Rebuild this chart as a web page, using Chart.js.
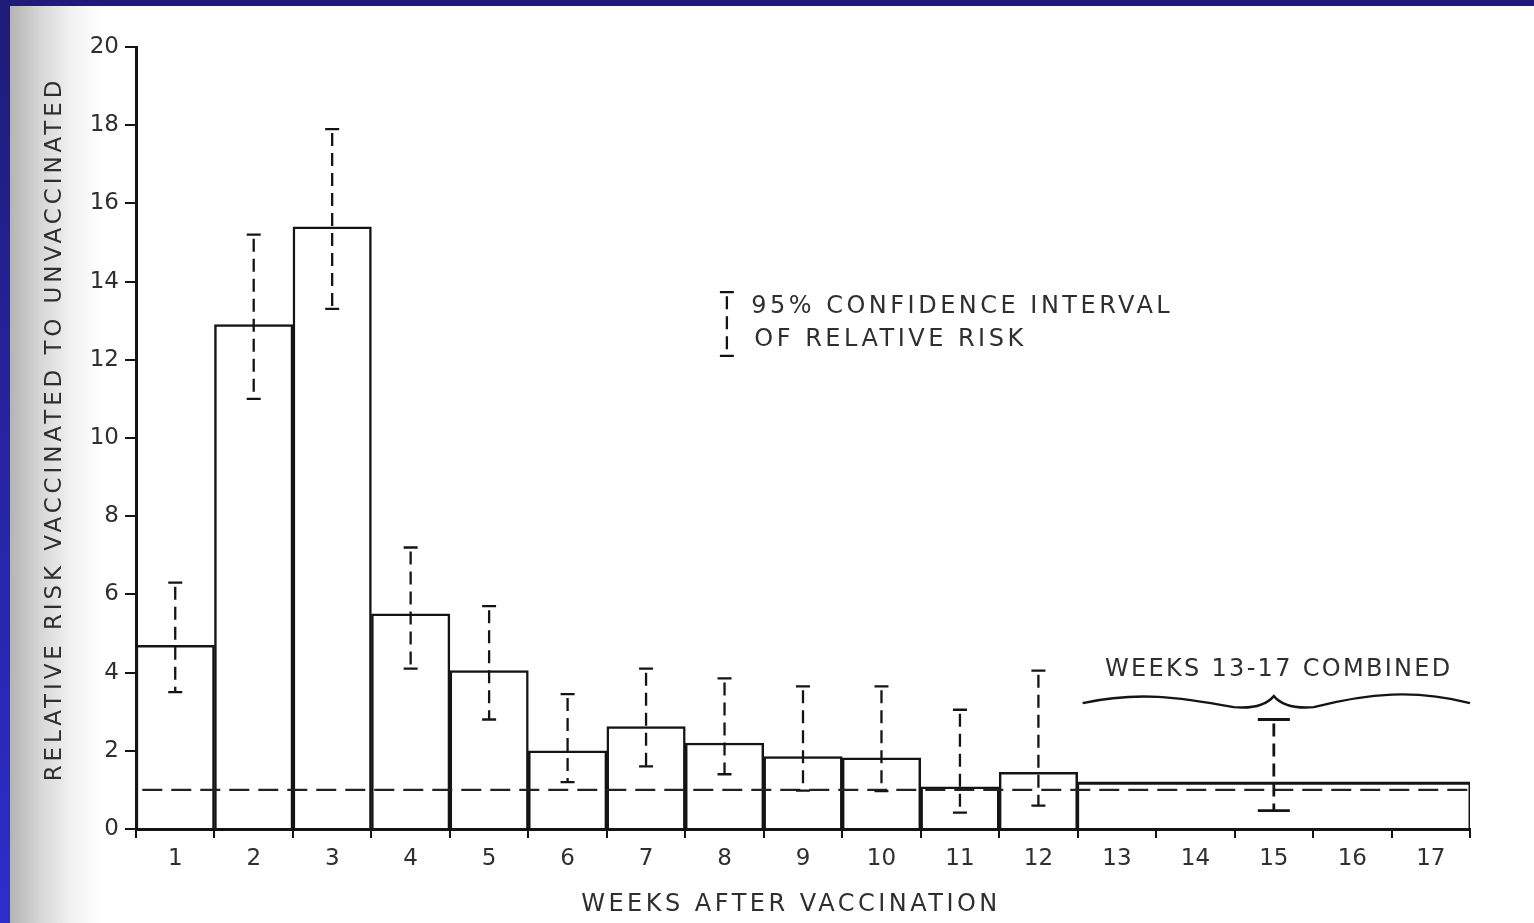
<!DOCTYPE html>
<html>
<head>
<meta charset="utf-8">
<script src="https://cdn.jsdelivr.net/npm/chart.js@4.4.0/dist/chart.umd.min.js"></script>
<style>
  html, body { margin: 0; padding: 0; background: #fff; }
  #wrap { width: 1534px; height: 923px; }
</style>
</head>
<body>
<div id="wrap"><canvas id="myChart"></canvas></div>
<script>
// weeks after vaccination
const weeks = ['1','2','3','4','5','6','7','8','9','10','11','12','13','14','15','16','17']
// relative risk, weeks 1-12
const relRisk = [4.7, 12.9, 15.4, 5.5, 4.05, 2.0, 2.62, 2.2, 1.85, 1.82, 1.08, 1.45]
const ciLow  = [3.5, 11.0, 13.3, 4.1, 2.8, 1.2, 1.6, 1.4, 0.98, 0.97, 0.42, 0.6]
const ciHigh = [6.3, 15.2, 17.9, 7.2, 5.7, 3.45, 4.1, 3.85, 3.65, 3.65, 3.05, 4.05]
// weeks 13-17 combined
const combinedRange = [12, 17]
const combinedRisk = 1.17
const combinedLow = 0.47
const combinedHigh = 2.8
const refLevel = 1
const yTicks = [0, 2, 4, 6, 8, 10, 12, 14, 16, 18, 20]

const INK = '#141414'
const TXT = '#2f2f2f'

function errBar(ctx, x, yLo, yHi, cap, lw) {
    ctx.save()
    ctx.strokeStyle = INK
    ctx.lineWidth = lw
    ctx.setLineDash([13, 7])
    ctx.beginPath()
    ctx.moveTo(x, yHi + 4)
    ctx.lineTo(x, yLo)
    ctx.stroke()
    ctx.setLineDash([])
    ctx.beginPath()
    ctx.moveTo(x - cap / 2, yHi); ctx.lineTo(x + cap / 2, yHi)
    ctx.moveTo(x - cap / 2, yLo); ctx.lineTo(x + cap / 2, yLo)
    ctx.stroke()
    ctx.restore()
}

function spaced(ctx, text, x, y, align, spacing) {
    ctx.letterSpacing = spacing + 'px'
    ctx.textAlign = align
    ctx.fillText(text, x, y)
}

const paperPlugin = {
    id: 'paper',
    beforeDraw(chart) {
        const ctx = chart.ctx
        const w = chart.width, h = chart.height
        ctx.save()
        ctx.fillStyle = '#ffffff'
        ctx.fillRect(0, 0, w, h)
        // greyish scan shadow along left edge
        let g = ctx.createLinearGradient(10, 0, 100, 0)
        g.addColorStop(0, '#b4b4b4')
        g.addColorStop(0.35, '#d8d8d8')
        g.addColorStop(0.7, '#f2f2f2')
        g.addColorStop(1, '#ffffff')
        ctx.fillStyle = g
        ctx.fillRect(10, 0, 90, h)
        // blue slide frame
        g = ctx.createLinearGradient(0, 0, 0, h)
        g.addColorStop(0, '#1f1b78')
        g.addColorStop(1, '#2d2dcc')
        ctx.fillStyle = g
        ctx.fillRect(0, 0, 10, h)
        ctx.fillStyle = '#1f1b78'
        ctx.fillRect(0, 0, w, 6)
        ctx.restore()
    },
    afterDatasetsDraw(chart) {
        const ctx = chart.ctx
        const xs = chart.scales.x, ys = chart.scales.y
        relRisk.forEach((v, i) => {
            errBar(ctx, xs.getPixelForValue(i + 0.5), ys.getPixelForValue(ciLow[i]), ys.getPixelForValue(ciHigh[i]), 14, 2.3)
        })
        const xc = xs.getPixelForValue((combinedRange[0] + combinedRange[1]) / 2)
        errBar(ctx, xc, ys.getPixelForValue(combinedLow), ys.getPixelForValue(combinedHigh), 32, 2.8)
    },
    afterDraw(chart) {
        const ctx = chart.ctx
        const xs = chart.scales.x, ys = chart.scales.y, area = chart.chartArea
        ctx.save()
        ctx.fillStyle = TXT
        ctx.textBaseline = 'middle'

        // legend
        const lx = xs.getPixelForValue(7.53)
        errBar(ctx, lx, ys.getPixelForValue(12.1), ys.getPixelForValue(13.73), 14, 2.3)
        ctx.font = '24px "DejaVu Sans"'
        spaced(ctx, '95% CONFIDENCE INTERVAL', xs.getPixelForValue(7.84), ys.getPixelForValue(13.35), 'left', 3.5)
        spaced(ctx, 'OF RELATIVE RISK', xs.getPixelForValue(7.88), ys.getPixelForValue(12.5), 'left', 3.5)

        // weeks 13-17 label and brace
        const xa = xs.getPixelForValue(combinedRange[0]) + 5
        const xb = xs.getPixelForValue(combinedRange[1])
        const xm = xs.getPixelForValue(14.5)
        spaced(ctx, 'WEEKS 13-17 COMBINED', xm + 5, ys.getPixelForValue(4.07), 'center', 2.3)
        const by = ys.getPixelForValue(3.22)
        ctx.strokeStyle = INK
        ctx.lineWidth = 2.4
        ctx.beginPath()
        ctx.moveTo(xa, by)
        ctx.bezierCurveTo(xa + 55, by - 12, xm - 95, by - 6, xm - 40, by + 4)
        ctx.bezierCurveTo(xm - 18, by + 6, xm - 6, by, xm, by - 7)
        ctx.bezierCurveTo(xm + 6, by, xm + 18, by + 6, xm + 40, by + 4)
        ctx.bezierCurveTo(xm + 95, by - 10, xb - 55, by - 14, xb, by)
        ctx.stroke()

        // axis titles
        ctx.font = '24px "DejaVu Sans"'
        spaced(ctx, 'WEEKS AFTER VACCINATION', (area.left + area.right) / 2 - 12, 905, 'center', 3.5)
        ctx.font = '23px "DejaVu Sans"'
        ctx.translate(55, (area.top + area.bottom) / 2 - 9)
        ctx.rotate(-Math.PI / 2)
        spaced(ctx, 'RELATIVE RISK VACCINATED TO UNVACCINATED', 0, 0, 'center', 3.9)
        ctx.restore()
    }
}

const ctx = document.getElementById('myChart').getContext('2d')
const chart = new Chart(ctx, {
    type: 'bar',
    data: {
        datasets: [{
            label: 'relative risk',
            data: relRisk.map((v, i) => ({ x: i + 0.5, y: v })),
            backgroundColor: '#ffffff',
            borderColor: INK,
            borderWidth: 2.5,
            borderSkipped: 'start',
            barPercentage: 1,
            categoryPercentage: 1,
            grouped: false,
            order: 3
        }, {
            type: 'line',
            label: 'weeks 13-17',
            data: [
                { x: combinedRange[0], y: 0 },
                { x: combinedRange[0], y: combinedRisk },
                { x: combinedRange[1], y: combinedRisk },
                { x: combinedRange[1], y: 0 }
            ],
            borderColor: INK,
            borderWidth: 3,
            pointRadius: 0,
            fill: false,
            tension: 0,
            order: 2
        }, {
            type: 'line',
            label: 'RR = 1',
            data: [{ x: 0.08, y: refLevel }, { x: 17, y: refLevel }],
            borderColor: '#222',
            borderWidth: 2.2,
            borderDash: [20, 9],
            pointRadius: 0,
            fill: false,
            order: 1
        }]
    },
    options: {
        responsive: true,
        maintainAspectRatio: false,
        animation: false,
        layout: { padding: { top: 47, right: 64, left: 0, bottom: 0 } },
        plugins: {
            legend: { display: false },
            tooltip: { enabled: false }
        },
        scales: {
            x: {
                type: 'linear',
                min: 0,
                max: 17,
                offset: false,
                afterBuildTicks(scale) { scale.ticks = [{ value: 0 }].concat(weeks.map(w => ({ value: +w }))) },
                grid: { offset: false, drawOnChartArea: false, tickLength: 9, color: INK, lineWidth: 2 },
                border: { color: INK, width: 3 },
                ticks: {
                    color: TXT,
                    font: { family: 'DejaVu Sans', size: 23 },
                    padding: 7,
                    maxRotation: 0,
                    autoSkip: false,
                    labelOffset: -39.2,
                    callback: v => v >= 1 ? weeks[v - 1] : ''
                },
                afterFit(scale) { scale.height = 94 }
            },
            y: {
                min: 0,
                max: 20,
                afterBuildTicks(scale) { scale.ticks = yTicks.map(v => ({ value: v })) },
                grid: { drawOnChartArea: false, tickLength: 11, color: INK, lineWidth: 2 },
                border: { color: INK, width: 3 },
                ticks: { color: TXT, font: { family: 'DejaVu Sans', size: 23 }, padding: 6 },
                afterFit(scale) { scale.width = 136 }
            }
        }
    },
    plugins: [paperPlugin]
})
</script>
</body>
</html>
